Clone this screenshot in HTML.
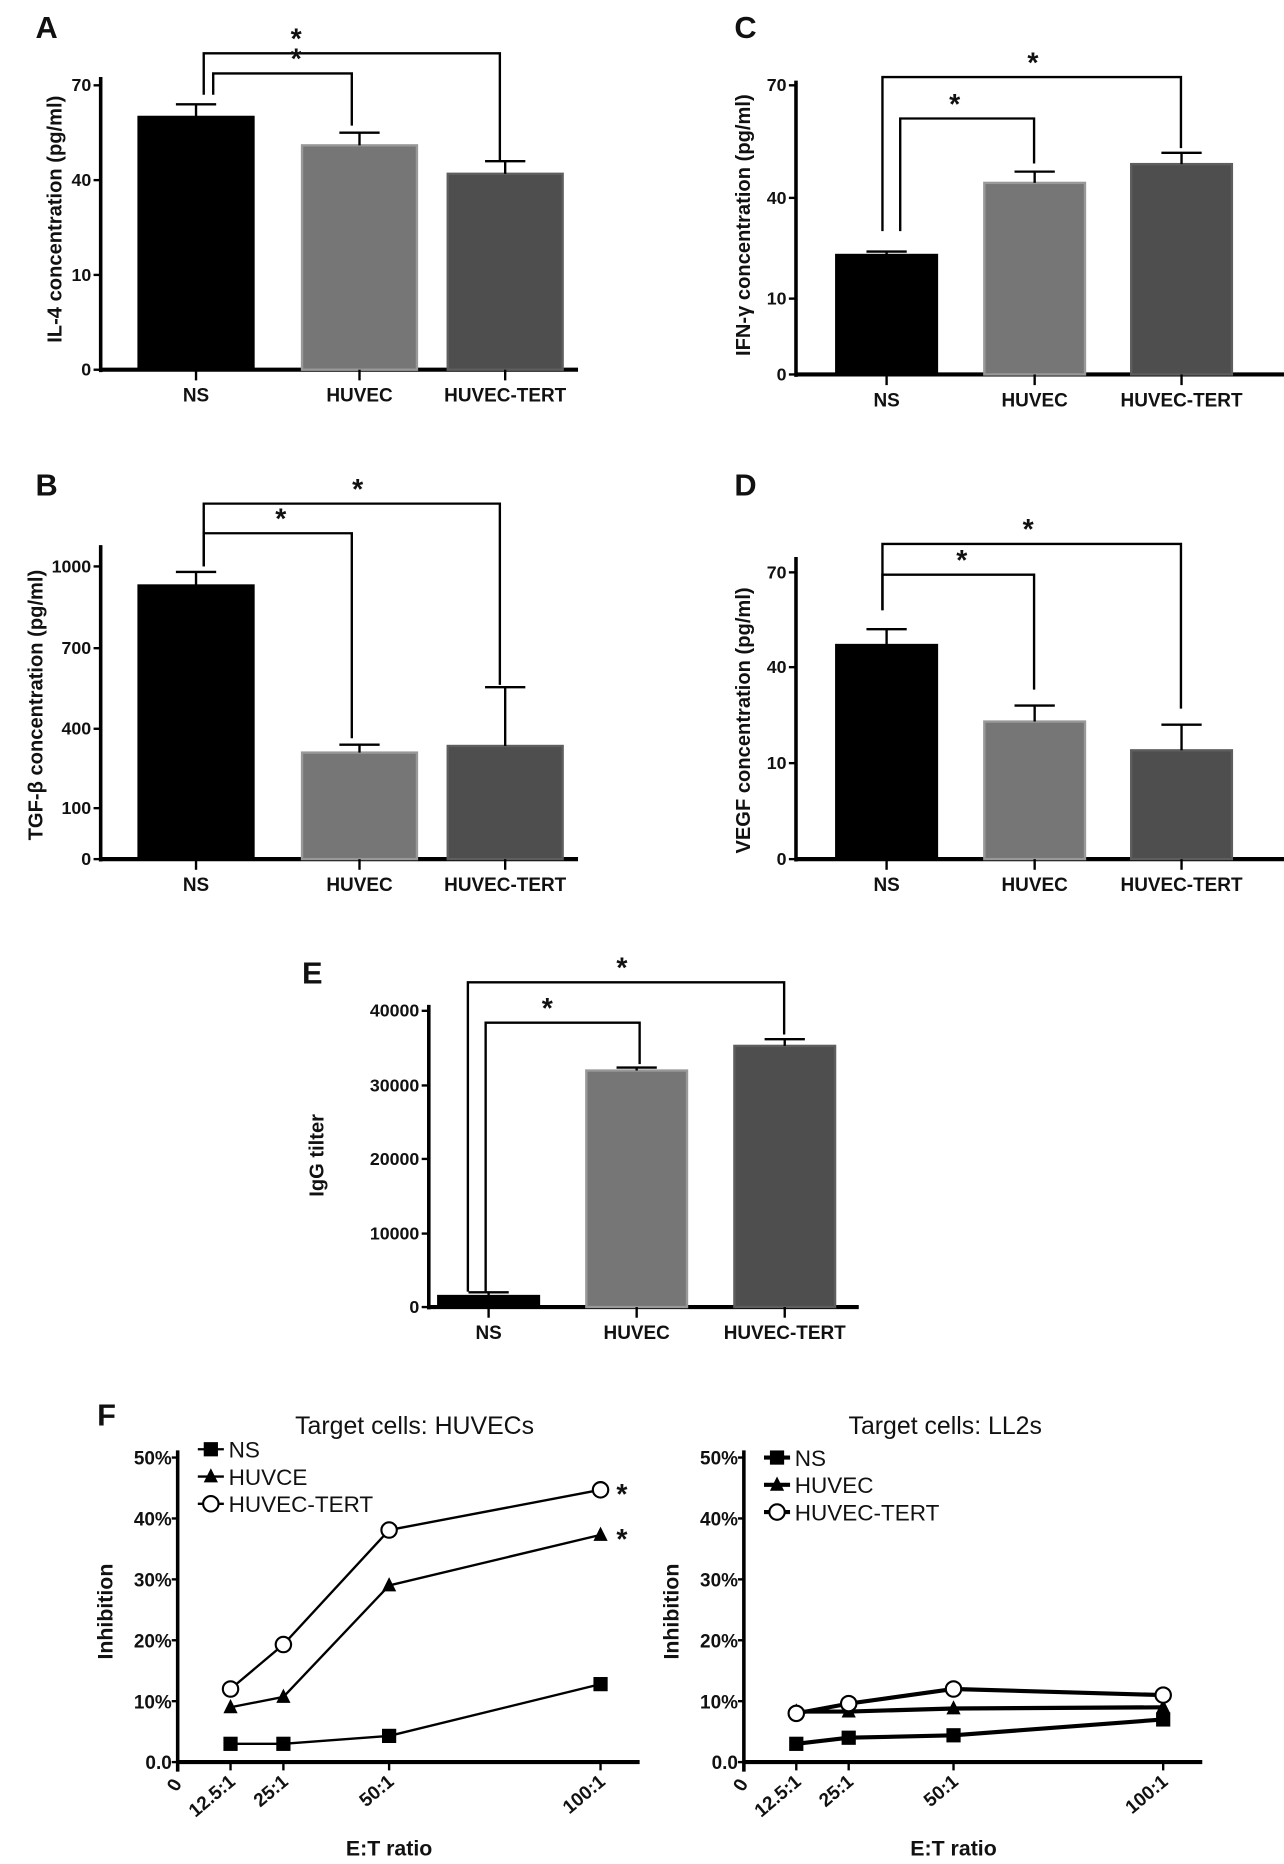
<!DOCTYPE html>
<html><head><meta charset="utf-8">
<style>
html,body{margin:0;padding:0;background:#fff;}
svg{display:block;}
text{font-family:"Liberation Sans Narrow","Liberation Sans",sans-serif;font-weight:bold;fill:#111;}
</style></head>
<body>
<svg id="fig" width="1284" height="1864" viewBox="0 0 1084 1573" preserveAspectRatio="none" xmlns="http://www.w3.org/2000/svg"></svg>
<script>
// ---- data ----
const barCategories = ["NS","HUVEC","HUVEC-TERT"];
const il4Values = [60, 51, 42];
const il4Errors = [4, 4, 4];
const il4Ticks = [0,10,40,70];
const ifnValues = [23, 44, 49];
const ifnErrors = [1, 3, 3];
const ifnTicks = [0,10,40,70];
const tgfValues = [930, 310, 335];
const tgfErrors = [50, 30, 220];
const tgfTicks = [0,100,400,700,1000];
const vegfValues = [47, 23, 14];
const vegfErrors = [5, 5, 8];
const vegfTicks = [0,10,40,70];
const iggValues = [1500, 32000, 35300];
const iggErrors = [500, 400, 900];
const iggTicks = [0,10000,20000,30000,40000];
const ratioValues = [12.5,25,50,100];
const ratioLabels = ["12.5:1","25:1","50:1","100:1"];
const pctTicks = [0,10,20,30,40,50];
const pctTickLabels = ["0.0","10%","20%","30%","40%","50%"];
const huvNS = [3,3,4.3,12.8];
const huvHUVEC = [9,10.7,29,37.3];
const huvTERT = [12,19.3,38.1,44.7];
const ll2NS = [3,4,4.4,7];
const ll2HUVEC = [8.3,8.3,8.8,9];
const ll2TERT = [8,9.6,12,11];

const NS="http://www.w3.org/2000/svg";
const svg=document.getElementById('fig');
function el(tag,attrs,parent){const e=document.createElementNS(NS,tag);for(const k in attrs)e.setAttribute(k,attrs[k]);(parent||svg).appendChild(e);return e;}
function txt(s,x,y,size,anchor,parent,extra){const t=el('text',Object.assign({x:x,y:y,'font-size':size,'text-anchor':anchor||'middle'},extra||{}),parent);t.textContent=s;return t;}
function piece(ticks,ys){return v=>{for(let i=0;i<ticks.length-1;i++){if(v<=ticks[i+1]||i===ticks.length-2){const f=(v-ticks[i])/(ticks[i+1]-ticks[i]);return ys[i]+f*(ys[i+1]-ys[i]);}}};}

const barFills=["#000","#767676","#4e4e4e"];
const barStroke=["#000","#999","#5e5e5e"];
function barPanel(o){
  const g=el('g',{});
  
  
  const lab=txt(o.letter,o.lx,o.ly,26,'start',g);
  
  const y=piece(o.ticks,o.tickY);
  const base=o.tickY[0];
  const ya=el('line',{x1:o.ax,y1:o.axTop,x2:o.ax,y2:base+2,stroke:'#000','stroke-width':3},g);
  
  const xa=el('line',{x1:o.ax,y1:base,x2:o.axRight,y2:base,stroke:'#000','stroke-width':3.5},g);
  
  o.ticks.forEach((t,i)=>{
    el('line',{x1:o.ax-6,y1:o.tickY[i],x2:o.ax,y2:o.tickY[i],stroke:'#000','stroke-width':2},g);
    const tl=txt(String(t),o.ax-8,o.tickY[i]+5,15,'end',g);
    
  });
  const yt=txt(o.ytitle,0,0,17,'middle',g,{transform:`translate(${o.ytx},${o.yty}) rotate(-90)`});
  
  barCategories.forEach((c,i)=>{
    const x0=o.barX[i], w=o.barW;
    const top=y(o.values[i]);
    const et=y(o.values[i]+o.errors[i]);
    const b=el('rect',{x:x0,y:top,width:w,height:base-top,fill:barFills[i],stroke:barStroke[i],'stroke-width':2},g);
    
    const cx=x0+w/2;
    el('line',{x1:cx,y1:top,x2:cx,y2:et,stroke:'#000','stroke-width':2},g);
    el('line',{x1:cx-17,y1:et,x2:cx+17,y2:et,stroke:'#000','stroke-width':2},g);
    el('line',{x1:cx,y1:base,x2:cx,y2:base+9,stroke:'#000','stroke-width':2},g);
    const cl=txt(c,cx,base+27,16,'middle',g);
    
  });
  o.brackets.forEach(bk=>{
    const p=el('polyline',{points:`${bk.x1},${bk.y1} ${bk.x1},${bk.h} ${bk.x2},${bk.h} ${bk.x2},${bk.y2}`,fill:'none',stroke:'#000','stroke-width':2},g);
    
    const s=txt('*',bk.sx,bk.h-4,24,'middle',g);
    
  });
}
barPanel({name:'panel-a-il4',letter:'A',lx:30,ly:32,ax:85,axTop:65,axRight:488,ticks:il4Ticks,tickY:[312,232,152,72],
  values:il4Values,errors:il4Errors,barX:[117,255,378],barW:97,ytitle:'IL-4 concentration (pg/ml)',ytx:52,yty:185,
  brackets:[{x1:172,y1:80,x2:422,y2:135,h:45,sx:250},{x1:180,y1:80,x2:297,y2:106,h:62,sx:250}]});
barPanel({name:'panel-c-ifn',letter:'C',lx:620,ly:32,ax:672,axTop:68,axRight:1085,ticks:ifnTicks,tickY:[316,252,167,72],
  values:ifnValues,errors:ifnErrors,barX:[706,831,955],barW:85,ytitle:'IFN-γ concentration (pg/ml)',ytx:633,yty:190,
  brackets:[{x1:745,y1:195,x2:997,y2:125,h:65,sx:872},{x1:760,y1:195,x2:873,y2:138,h:100,sx:806}]});
barPanel({name:'panel-b-tgf',letter:'B',lx:30,ly:418,ax:85,axTop:460,axRight:488,ticks:tgfTicks,tickY:[725,682,615,547,478],
  values:tgfValues,errors:tgfErrors,barX:[117,255,378],barW:97,ytitle:'TGF-β concentration (pg/ml)',ytx:36,yty:595,
  brackets:[{x1:172,y1:478,x2:422,y2:578,h:425,sx:302},{x1:172,y1:478,x2:297,y2:623,h:450,sx:237}]});
barPanel({name:'panel-d-vegf',letter:'D',lx:620,ly:418,ax:672,axTop:470,axRight:1085,ticks:vegfTicks,tickY:[725,644,563,483],
  values:vegfValues,errors:vegfErrors,barX:[706,831,955],barW:85,ytitle:'VEGF concentration (pg/ml)',ytx:633,yty:608,
  brackets:[{x1:745,y1:515,x2:997,y2:598,h:459,sx:868},{x1:745,y1:515,x2:873,y2:582,h:485,sx:812}]});
barPanel({name:'panel-e-igg',letter:'E',lx:255,ly:830,ax:362,axTop:848,axRight:725,ticks:iggTicks,tickY:[1103,1041,978,916,853],
  values:iggValues,errors:iggErrors,barX:[370,495,620],barW:85,ytitle:'IgG tilter',ytx:273,yty:975,
  brackets:[{x1:395,y1:1090,x2:662,y2:873,h:829,sx:525},{x1:410,y1:1090,x2:540,y2:898,h:863,sx:462}]});

// ---- line panels ----
function linePanel(o){
  const g=el('g',{});
  
  
  const x=v=>o.ax+v*o.xs;
  const y=v=>o.base-v*5.14;
  const t=txt(o.title,o.tx,1210,21,'middle',g,{style:'font-weight:normal'});
  
  const ya=el('line',{x1:o.ax,y1:1224,x2:o.ax,y2:o.base+8,stroke:'#000','stroke-width':3},g);
  
  const xa=el('line',{x1:o.ax,y1:o.base,x2:o.right,y2:o.base,stroke:'#000','stroke-width':3.5},g);
  
  pctTicks.forEach((v,i)=>{
    el('line',{x1:o.ax-5,y1:y(v),x2:o.ax,y2:y(v),stroke:'#000','stroke-width':2},g);
    const l=txt(pctTickLabels[i],o.ax-5,y(v)+6,16,'end',g);
    
  });
  const zl=txt('0',o.ax+4,o.base+18,16,'end',g,{transform:`rotate(-60 ${o.ax+4} ${o.base+18})`});
  
  ratioValues.forEach((v,i)=>{
    el('line',{x1:x(v),y1:o.base,x2:x(v),y2:o.base+7,stroke:'#000','stroke-width':2},g);
    const l=txt(ratioLabels[i],x(v)+5,o.base+18,16,'end',g,{transform:`rotate(-40 ${x(v)+5} ${o.base+18})`});
    
  });
  const yt=txt('Inhibition',0,0,18,'middle',g,{transform:`translate(${o.ax-55},1360) rotate(-90)`});
  
  const xt=txt('E:T ratio',(o.ax+x(100))/2,1566,18,'middle',g);
  
  const series=[{n:'ns',v:o.ns,m:'sq'},{n:'huvec',v:o.hu,m:'tri'},{n:'huvec-tert',v:o.te,m:'circ'}];
  function marker(m,cx,cy,parent){
    if(m==='sq')return el('rect',{x:cx-6,y:cy-6,width:12,height:12,fill:'#000'},parent);
    if(m==='tri')return el('polygon',{points:`${cx},${cy-7} ${cx+6},${cy+5} ${cx-6},${cy+5}`,fill:'#000'},parent);
    return el('circle',{cx:cx,cy:cy,r:6.5,fill:'#fff',stroke:'#000','stroke-width':1.8},parent);
  }
  series.forEach((s,si)=>{
    const pts=s.v.map((v,i)=>x(ratioValues[i])+','+y(v)).join(' ');
    const pl=el('polyline',{points:pts,fill:'none',stroke:'#000','stroke-width':o.lw},g);
    
    s.v.forEach((v,i)=>{
      const mk=marker(s.m,x(ratioValues[i]),y(v),g);
      
    });
    const ly=o.legY+si*23;
    el('line',{x1:o.legX,y1:ly,x2:o.legX+22,y2:ly,stroke:'#000','stroke-width':o.lw},g);
    const lm=marker(s.m,o.legX+11,ly,g);
    
    const lt=txt(o.legNames[si],o.legX+26,ly+7,19,'start',g,{style:'font-weight:normal'});
    
  });
  (o.stars||[]).forEach(sv=>{
    const s=txt('*',x(100)+18,y(sv)+12,24,'middle',g);
    
  });
}
const lf=txt('F',82,1203,26,'start');

linePanel({name:'panel-f-huvecs',title:'Target cells: HUVECs',tx:350,ax:150,right:540,base:1487,xs:3.57,lw:2,
  ns:huvNS,hu:huvHUVEC,te:huvTERT,legX:167,legY:1223,legNames:['NS','HUVCE','HUVEC-TERT'],stars:[huvTERT[3],huvHUVEC[3]]});
linePanel({name:'panel-f-ll2s',title:'Target cells: LL2s',tx:798,ax:628,right:1015,base:1487,xs:3.54,lw:3.5,
  ns:ll2NS,hu:ll2HUVEC,te:ll2TERT,legX:645,legY:1230,legNames:['NS','HUVEC','HUVEC-TERT']});
</script>
</body></html>
